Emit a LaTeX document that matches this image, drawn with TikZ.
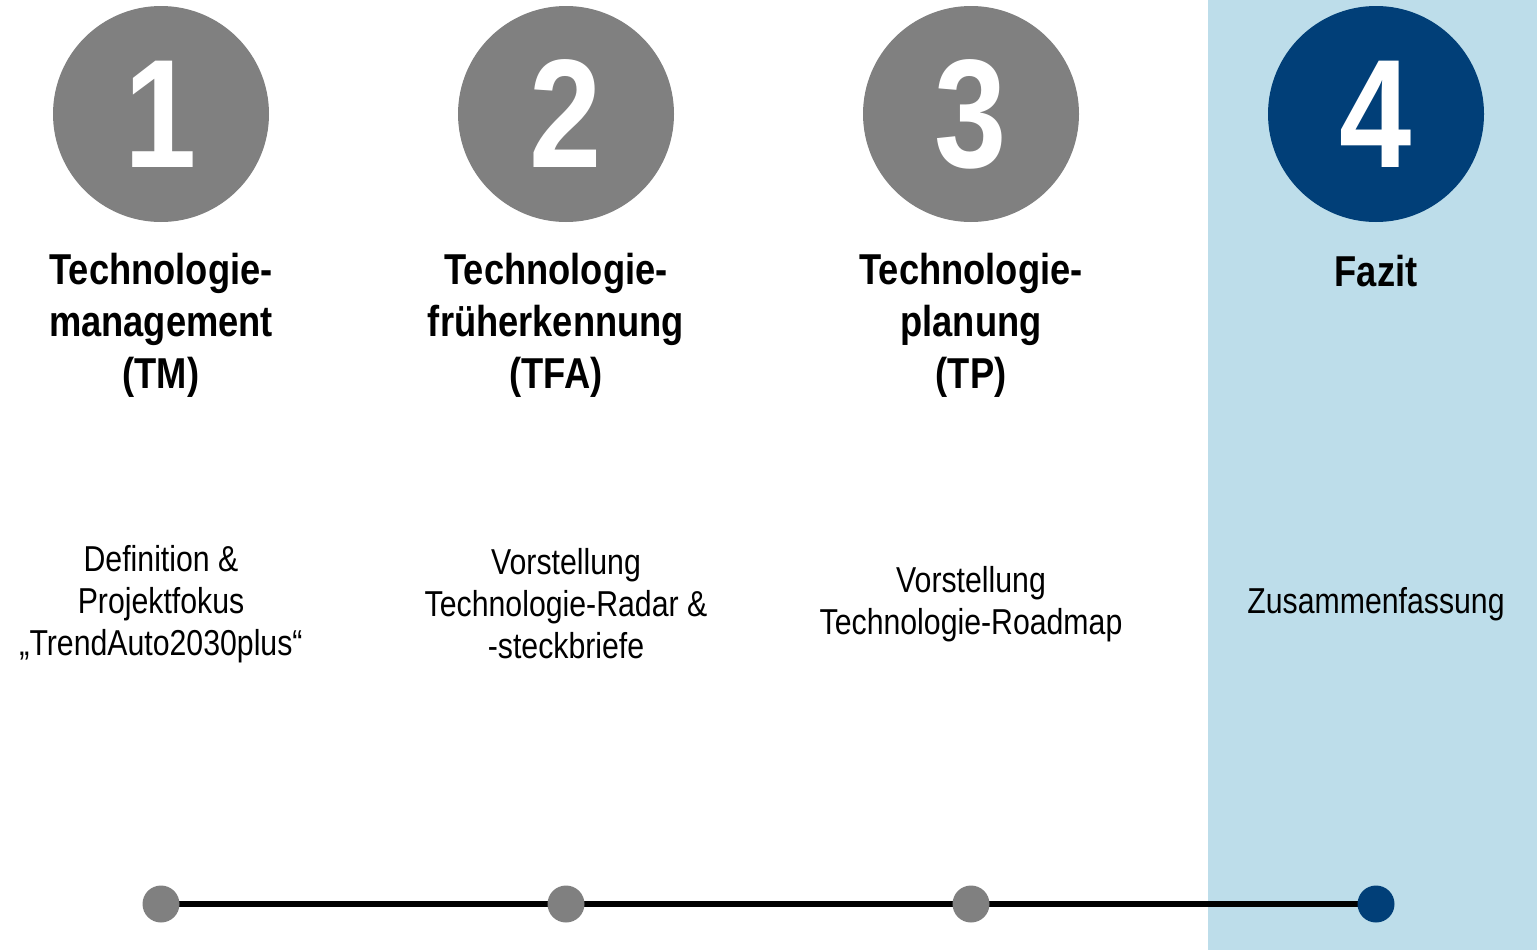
\documentclass[tikz,border=0pt]{standalone}
\usepackage{fontspec}
\setmainfont[FakeStretch=0.84]{Liberation Sans}
\definecolor{numgrey}{HTML}{808080}
\definecolor{numblue}{HTML}{013F78}
\definecolor{panelblue}{HTML}{BDDDEA}
\begin{document}
\begin{tikzpicture}[x=0.02cm,y=-0.02cm,
  numcircle/.style={circle,fill=#1,minimum size=216*0.02cm,inner sep=0pt,text=white,font=\fontsize{88}{88}\bfseries\selectfont},
  titletext/.style={align=center,inner sep=0pt,font=\fontsize{24.6}{29.6}\bfseries\selectfont},
  desctext/.style={align=center,inner sep=0pt,font=\fontsize{20.5}{23.9}\selectfont},
  dot/.style={circle,fill=#1,minimum size=37*0.02cm,inner sep=0pt}]
\useasboundingbox (0,0) rectangle (1537,950);
\fill[panelblue] (1208,0) rectangle (1537,950);
% circles
\node[numcircle=numgrey] (c1) at (161,114) {1};
\node[numcircle=numgrey] (c2) at (566,114) {2};
\node[numcircle=numgrey] (c3) at (971,114) {3};
\node[numcircle=numblue] (c4) at (1376,114) {4};
% titles
\node[titletext] (t1) at (161,325) {Technologie-\\management\\(TM)};
\node[titletext] (t2) at (556,325) {Technologie-\\früherkennung\\(TFA)};
\node[titletext] (t3) at (971,325) {Technologie-\\planung\\(TP)};
\node[titletext] (t4) at (1376,271) {Fazit};
% descriptions
\node[desctext] (d1) at (161,604) {Definition \&\\Projektfokus\\„TrendAuto2030plus“};
\node[desctext] (d2) at (566,604) {Vorstellung\\Technologie-Radar \&\\-steckbriefe};
\node[desctext] (d3) at (971,604) {Vorstellung\\Technologie-Roadmap};
\node[desctext] (d4) at (1376,604) {Zusammenfassung};
% timeline
\coordinate (p1) at (161,904);
\coordinate (p2) at (566,904);
\coordinate (p3) at (971,904);
\coordinate (p4) at (1376,904);
\draw[line width=6*0.02cm] (p1) -- (p4);
\node[dot=numgrey] (k1) at (p1) {};
\node[dot=numgrey] (k2) at (p2) {};
\node[dot=numgrey] (k3) at (p3) {};
\node[dot=numblue] (k4) at (p4) {};
\end{tikzpicture}
\end{document}
